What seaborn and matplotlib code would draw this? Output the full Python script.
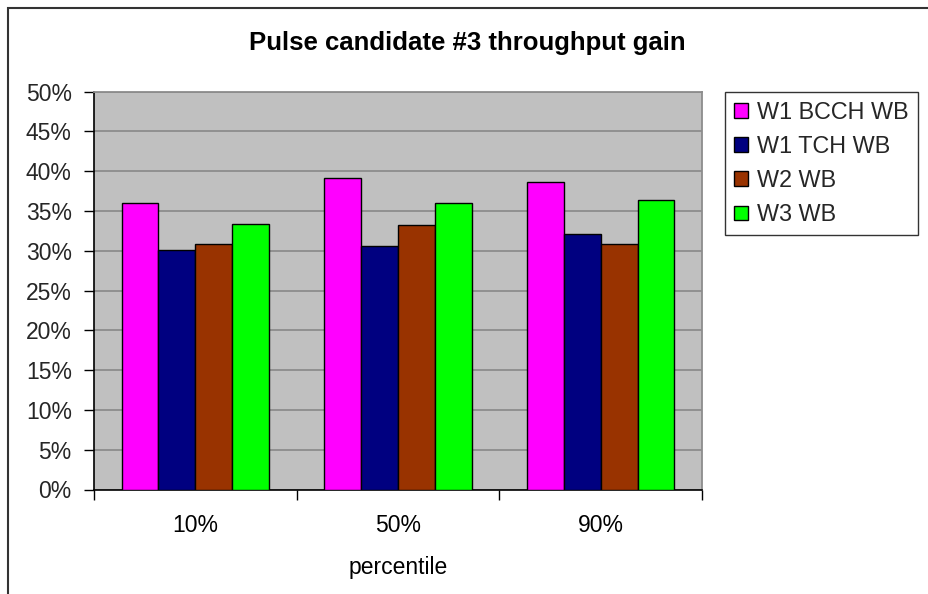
import matplotlib
matplotlib.use("Agg")
import matplotlib.pyplot as plt
from matplotlib.patches import Rectangle
from matplotlib.ticker import FuncFormatter, MultipleLocator, FixedLocator
import seaborn as sns
import pandas as pd

# Throughput gain per percentile, one list per series (percent)
percentiles = ["10%", "50%", "90%"]
series_names = ["W1 BCCH WB", "W1 TCH WB", "W2 WB", "W3 WB"]
w1_bcch_wb = [36.0, 39.2, 38.6]
w1_tch_wb = [30.1, 30.6, 32.1]
w2_wb = [30.8, 33.2, 30.8]
w3_wb = [33.4, 36.0, 36.4]
palette = ["#FF00FF", "#000080", "#993300", "#00FF00"]

rows = []
for name, vals in zip(series_names, [w1_bcch_wb, w1_tch_wb, w2_wb, w3_wb]):
    for p, v in zip(percentiles, vals):
        rows.append({"percentile": p, "series": name, "gain": v})
df = pd.DataFrame(rows)

sns.set_theme(style="white")
plt.rcParams["font.family"] = ["Liberation Sans", "DejaVu Sans"]

W, H = 929, 594
FS = 16.5
fig = plt.figure(figsize=(W / 100, H / 100), dpi=100)
fig.patch.set_facecolor("white")

# Chart-area frame (left and top edges visible, continues past the figure)
fig.patches.append(Rectangle((8 / W, -0.1), 1.2, 1 - 7.5 / H + 0.1,
                             transform=fig.transFigure, fill=False,
                             edgecolor="#333333", linewidth=1.5, zorder=0))

ax = fig.add_axes([94 / W, 1 - 489.5 / H, (702 - 94) / W, (489.5 - 91.7) / H])
ax.set_facecolor("#C0C0C0")

sns.barplot(data=df, x="percentile", y="gain", hue="series",
            hue_order=series_names, order=percentiles, palette=palette,
            width=0.727, gap=0, edgecolor="black", linewidth=1.0,
            saturation=1, ax=ax, zorder=3)

ax.set_ylim(0, 50)
ax.set_xlim(-0.5, 2.5)
ax.yaxis.set_major_locator(MultipleLocator(5))
ax.yaxis.set_major_formatter(FuncFormatter(lambda v, _: f"{v:.0f}%"))
ax.grid(axis="y", color="#8c8c8c", linewidth=1.3, zorder=0)
ax.set_axisbelow(True)

# x ticks sit on category boundaries, labels at category centres
ax.xaxis.set_minor_locator(FixedLocator([-0.5, 0.5, 1.5, 2.5]))
ax.tick_params(axis="x", which="major", length=0, pad=18, labelsize=FS, colors="black")
ax.tick_params(axis="x", which="minor", length=7, width=1, direction="out", color="black", bottom=True)
ax.tick_params(axis="y", which="major", length=7, width=1, direction="out", color="black",
               left=True, labelsize=FS, pad=9)

for s in ["left", "bottom"]:
    ax.spines[s].set_color("black")
    ax.spines[s].set_linewidth(1.2)
for s in ["top", "right"]:
    ax.spines[s].set_color("#8c8c8c")
    ax.spines[s].set_linewidth(1.3)

ax.set_xlabel("percentile", fontsize=FS, labelpad=13, color="black")
ax.set_ylabel("")

fig.text(467 / W, 1 - 43 / H, "Pulse candidate #3 throughput gain",
         ha="center", va="center", fontsize=18.5, fontweight="bold", color="black")

ax.get_legend().remove()
handles = [Rectangle((0, 0), 1, 1, facecolor=c, edgecolor="black", linewidth=1) for c in palette]
leg = fig.legend(handles, series_names, loc="upper left",
                 bbox_to_anchor=(725 / W, 1 - 91.7 / H), fontsize=16.8,
                 frameon=True, fancybox=False, edgecolor="black",
                 handlelength=0.6, handleheight=0.6, handletextpad=0.4,
                 labelspacing=0.48, borderpad=0.38, borderaxespad=0)
leg.get_frame().set_linewidth(1.0)

fig.savefig("out.png", dpi=100)
